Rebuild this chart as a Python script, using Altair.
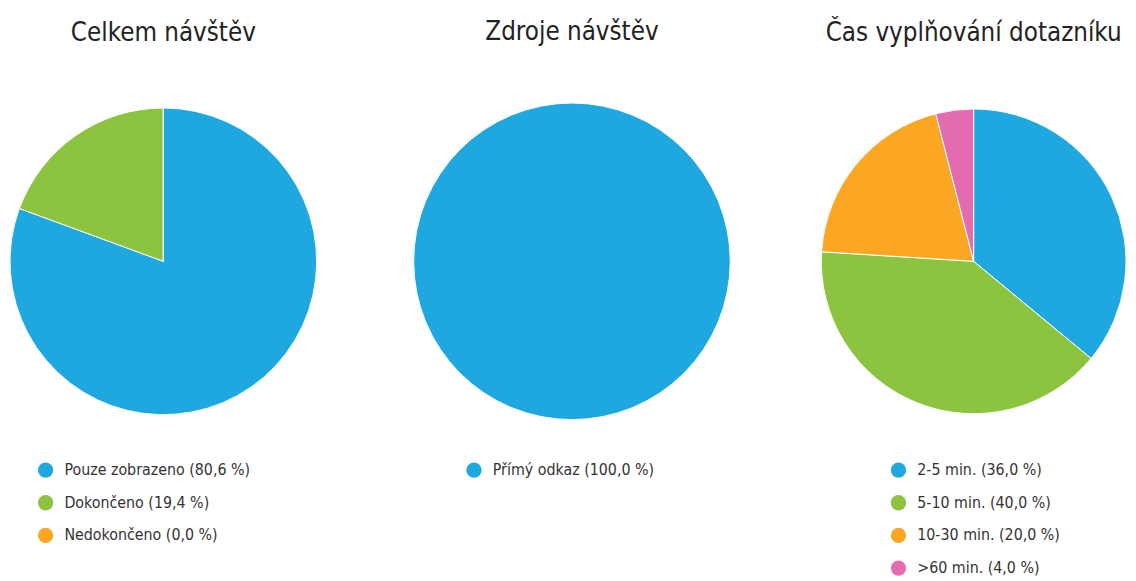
import altair as alt
import pandas as pd

FONT = "Liberation Sans Narrow, DejaVu Sans Condensed, Roboto, sans-serif"

# Chart 1
t1 = "Celkem návštěv"
labels1 = ["Pouze zobrazeno (80,6 %)", "Dokončeno (19,4 %)", "Nedokončeno (0,0 %)"]
values1 = [80.6, 19.4, 0.0]
colors1 = ["#1fa8e0", "#8cc43f", "#fba723"]

# Chart 2
t2 = "Zdroje návštěv"
labels2 = ["Přímý odkaz (100,0 %)"]
values2 = [100.0]
colors2 = ["#1fa8e0"]

# Chart 3
t3 = "Čas vyplňování dotazníku"
labels3 = ["2-5 min. (36,0 %)", "5-10 min. (40,0 %)", "10-30 min. (20,0 %)", ">60 min. (4,0 %)"]
values3 = [36.0, 40.0, 20.0, 4.0]
colors3 = ["#1fa8e0", "#8cc43f", "#fba723", "#e56bb0"]


def pie(title, labels, values, colors, w, h, r, lx, ly):
    df = pd.DataFrame({"label": labels, "value": values, "idx": list(range(len(labels)))})
    return (
        alt.Chart(df)
        .mark_arc(radius=r, stroke="white", strokeWidth=1)
        .encode(
            theta=alt.Theta("value:Q", stack=True),
            order=alt.Order("idx:Q"),
            color=alt.Color(
                "label:N",
                scale=alt.Scale(domain=labels, range=colors),
                sort=labels,
                legend=alt.Legend(
                    title=None,
                    orient="none",
                    legendX=lx,
                    legendY=ly,
                    direction="vertical",
                    symbolType="circle",
                    symbolSize=240,
                    symbolStrokeWidth=0,
                    labelFont=FONT,
                    labelFontSize=16,
                    labelColor="#333333",
                    labelOffset=11,
                    rowPadding=17,
                    labelLimit=400,
                ),
            ),
        )
        .properties(
            width=w,
            height=h,
            title=alt.TitleParams(title, font=FONT, fontSize=26, fontWeight="normal",
                                  color="#222222", anchor="middle", offset=57),
        )
    )


p1 = pie(t1, labels1, values1, colors1, 310, 322, 155, 28, 364)
p2 = pie(t2, labels2, values2, colors2, 320, 322, 160, 53, 364)
p3 = pie(t3, labels3, values3, colors3, 308, 322, 154, 70, 364)

right = alt.hconcat(p2, p3, spacing=88).resolve_scale(color="independent")

chart = (
    alt.hconcat(p1, right, spacing=94)
    .resolve_scale(color="independent")
    .configure_view(stroke=None)
    .configure(padding={"top": 8, "left": 0, "right": 0, "bottom": 0}, background="white")
)

chart.save("out.html", embed_options={"renderer": "svg", "actions": False})
